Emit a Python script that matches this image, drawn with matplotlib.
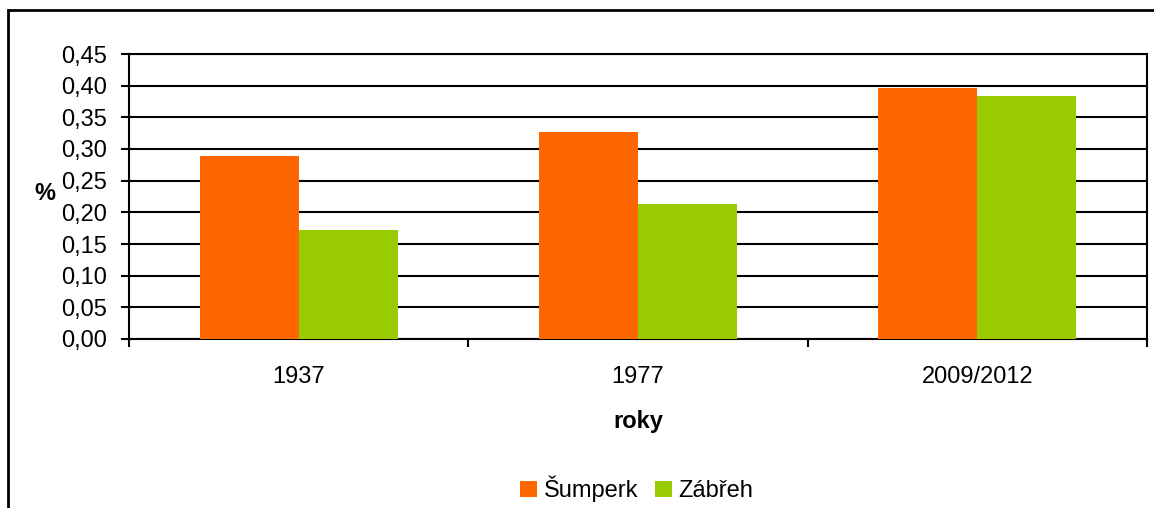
import matplotlib
matplotlib.use("Agg")
import matplotlib.pyplot as plt
import numpy as np
from matplotlib.patches import Rectangle

categories = ["1937", "1977", "2009/2012"]
series_names = ["Šumperk", "Zábřeh"]
sumperk = [0.289, 0.327, 0.397]
zabreh = [0.172, 0.213, 0.384]
yticks = [0.0, 0.05, 0.10, 0.15, 0.20, 0.25, 0.30, 0.35, 0.40, 0.45]
colors = ["#FF6600", "#99CC00"]

plt.rcParams['font.family'] = ['Liberation Sans', 'DejaVu Sans']
FS = 17

W, H = 1154, 508
fig = plt.figure(figsize=(W / 100, H / 100), dpi=100)

# outer frame (left & top edges visible)
fig.add_artist(Rectangle((8 / W, -0.1), 1.2, (H - 10) / H + 0.1,
                         transform=fig.transFigure, fill=False,
                         edgecolor="black", linewidth=2))

ax = fig.add_axes([129 / W, (H - 339) / H, (1147 - 129) / W, (339 - 54) / H])
x = np.arange(len(categories))
bw = 99 / 339
ax.bar(x - bw / 2, sumperk, width=bw, color=colors[0], label=series_names[0], zorder=3)
ax.bar(x + bw / 2, zabreh, width=bw, color=colors[1], label=series_names[1], zorder=3)

ax.set_xlim(-0.5, len(categories) - 0.5)
ax.set_ylim(0, 0.45)
ax.set_yticks(yticks)
ax.set_yticklabels([f"{v:.2f}".replace(".", ",") for v in yticks], fontsize=FS)
ax.yaxis.grid(True, color="black", linewidth=1.5, zorder=0)
ax.set_axisbelow(True)

ax.set_xticks(np.arange(-0.5, len(categories), 1.0))
ax.set_xticklabels([])
ax.set_xticks(x, minor=True)
ax.set_xticklabels(categories, minor=True, fontsize=FS)
ax.tick_params(axis="x", which="minor", length=0, pad=19.5)
ax.tick_params(axis="x", which="major", length=6, width=1.5, direction="out")
ax.tick_params(axis="y", length=6, width=1.5, direction="out", pad=9.5)

for s in ax.spines.values():
    s.set_linewidth(1.5)
    s.set_color("black")

ax.set_xlabel("roky", fontsize=FS, fontweight="bold", labelpad=16)
ax.set_ylabel("%", fontsize=FS, fontweight="bold", rotation=0, va="center", ha="center")
ax.yaxis.set_label_coords((45 - 129) / (1147 - 129), 1 - (194 - 54) / (339 - 54))

fig.legend(loc="center", bbox_to_anchor=(637 / W, 1 - 489 / H), ncol=2,
           frameon=False, fontsize=FS, handlelength=0.7, handleheight=0.7,
           handletextpad=0.3, columnspacing=0.7)

fig.savefig("out.png", dpi=100)
